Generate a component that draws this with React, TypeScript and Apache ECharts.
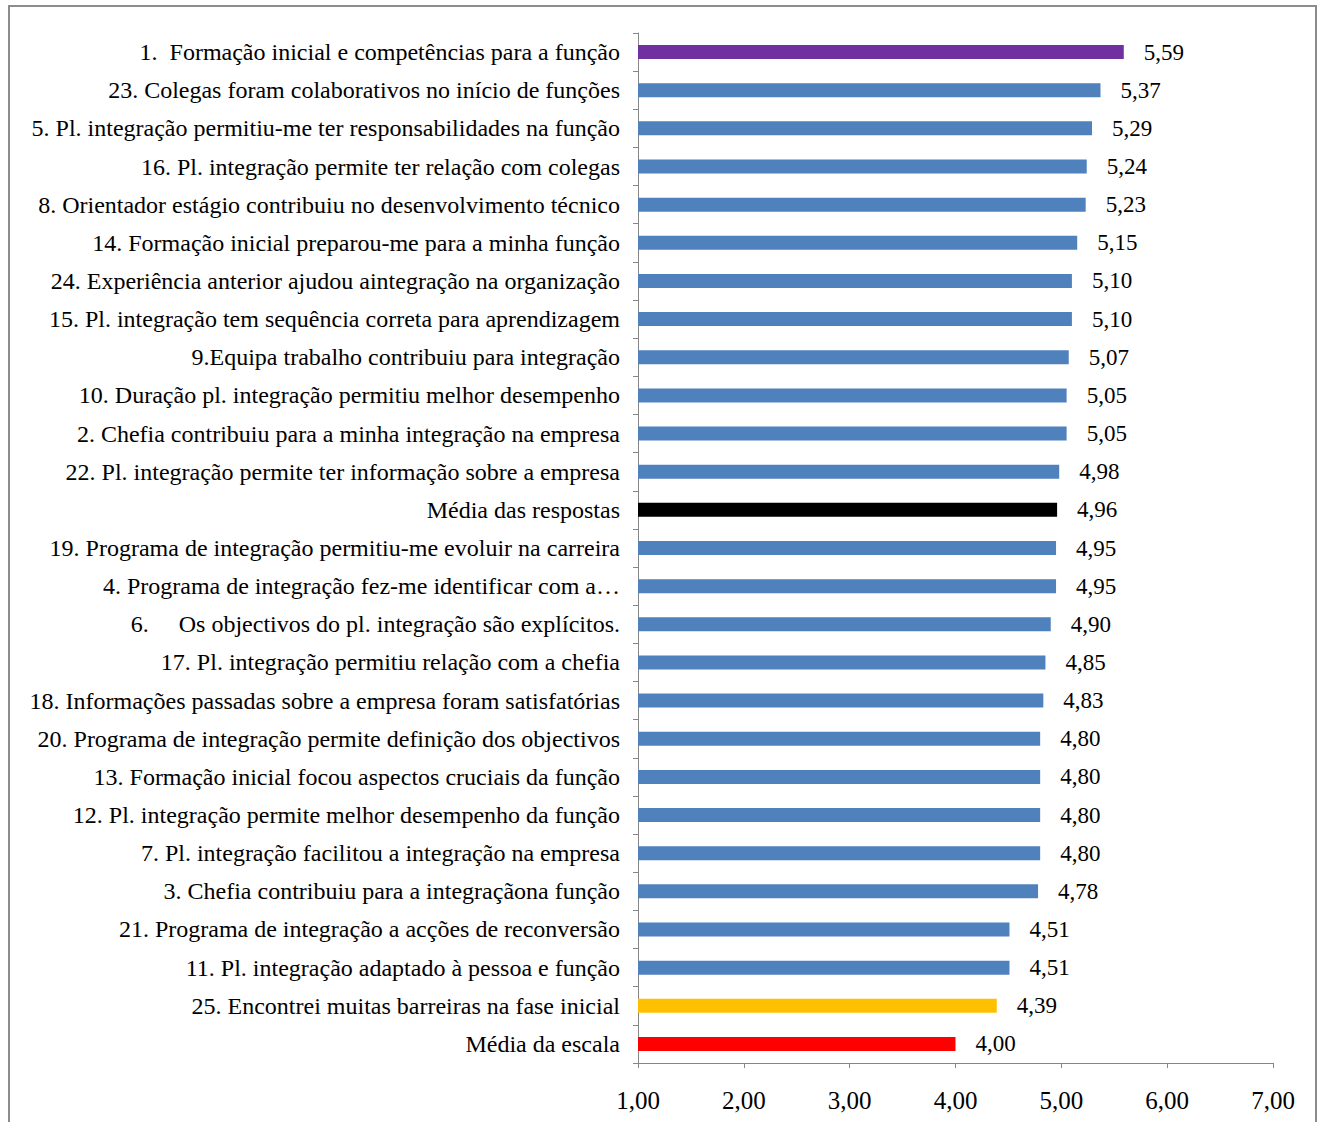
import React, { useEffect, useRef } from "react";
import * as echarts from "echarts";

const categories: string[] = [
  "1.\u00a0\u00a0Formação inicial e competências para a função",
  "23. Colegas foram colaborativos no início de funções",
  "5. Pl. integração permitiu-me ter responsabilidades na função",
  "16. Pl. integração permite ter relação com colegas",
  "8. Orientador estágio contribuiu no desenvolvimento técnico",
  "14. Formação inicial preparou-me para a minha função",
  "24. Experiência anterior ajudou aintegração na organização",
  "15. Pl. integração tem sequência correta para aprendizagem",
  "9.Equipa trabalho contribuiu para integração",
  "10. Duração pl. integração permitiu melhor desempenho",
  "2. Chefia contribuiu para a minha integração na empresa",
  "22. Pl. integração permite ter informação sobre a empresa",
  "Média das respostas",
  "19. Programa de integração permitiu-me evoluir na carreira",
  "4. Programa de integração fez-me identificar com a…",
  "6.\u00a0\u00a0\u00a0\u00a0\u00a0Os objectivos do pl. integração são explícitos.",
  "17. Pl. integração permitiu relação com a chefia",
  "18. Informações passadas sobre a empresa foram satisfatórias",
  "20. Programa de integração permite definição dos objectivos",
  "13. Formação inicial focou aspectos cruciais da função",
  "12. Pl. integração permite melhor desempenho da função",
  "7. Pl. integração facilitou a integração na empresa",
  "3. Chefia contribuiu para a integraçãona função",
  "21. Programa de integração a acções de reconversão",
  "11. Pl. integração adaptado à pessoa e função",
  "25. Encontrei muitas barreiras na fase inicial",
  "Média da escala",
];

const values: number[] = [
  5.59, 5.37, 5.29, 5.24, 5.23, 5.15, 5.1, 5.1, 5.07, 5.05, 5.05, 4.98, 4.96,
  4.95, 4.95, 4.9, 4.85, 4.83, 4.8, 4.8, 4.8, 4.8, 4.78, 4.51, 4.51, 4.39, 4.0,
];

const barColors: string[] = [
  "#7030A0", "#4F81BD", "#4F81BD", "#4F81BD", "#4F81BD", "#4F81BD", "#4F81BD",
  "#4F81BD", "#4F81BD", "#4F81BD", "#4F81BD", "#4F81BD", "#000000", "#4F81BD",
  "#4F81BD", "#4F81BD", "#4F81BD", "#4F81BD", "#4F81BD", "#4F81BD", "#4F81BD",
  "#4F81BD", "#4F81BD", "#4F81BD", "#4F81BD", "#FFC000", "#FF0000",
];

const xMin = 1;
const xMax = 7;
const xInterval = 1;

const fmt = (v: number) => v.toFixed(2).replace(".", ",");

export default function App() {
  const ref = useRef<HTMLDivElement>(null);
  useEffect(() => {
    if (!ref.current) return;
    const chart = echarts.init(ref.current, undefined, { renderer: "svg" });
    const font = "'Liberation Serif', 'Times New Roman', serif";
    chart.setOption({
      animation: false,
      backgroundColor: "#ffffff",
      graphic: [
        {
          type: "rect",
          shape: { x: 9, y: 6, width: 1307, height: 1140 },
          style: { fill: "none", stroke: "#8c8c8c", lineWidth: 2 },
          silent: true,
        },
      ],
      grid: { left: 638, right: 50, top: 33, bottom: 59, containLabel: false },
      xAxis: {
        type: "value",
        min: xMin,
        max: xMax,
        interval: xInterval,
        axisLine: { show: true, lineStyle: { color: "#868686", width: 1 } },
        axisTick: { show: true, length: 5, lineStyle: { color: "#868686" } },
        splitLine: { show: false },
        axisLabel: {
          formatter: (v: number) => fmt(v),
          color: "#000",
          fontFamily: font,
          fontSize: 25,
          margin: 25,
        },
      },
      yAxis: {
        type: "category",
        data: categories,
        inverse: true,
        axisLine: { show: true, lineStyle: { color: "#868686", width: 1 } },
        axisTick: { show: true, length: 5, alignWithLabel: false, lineStyle: { color: "#868686" } },
        axisLabel: {
          color: "#000",
          fontFamily: font,
          fontSize: 24,
          margin: 18,
          interval: 0,
        },
      },
      series: [
        {
          type: "bar",
          barWidth: 14,
          data: values.map((v, i) => ({ value: v, itemStyle: { color: barColors[i] } })),
          label: {
            show: true,
            position: "right",
            distance: 20,
            formatter: (p: any) => fmt(p.value),
            color: "#000",
            fontFamily: font,
            fontSize: 23,
          },
        },
      ],
    });
    return () => chart.dispose();
  }, []);
  return (
    <div
      ref={ref}
      style={{ position: "absolute", left: 0, top: 0, width: 1323, height: 1122 }}
    />
  );
}
